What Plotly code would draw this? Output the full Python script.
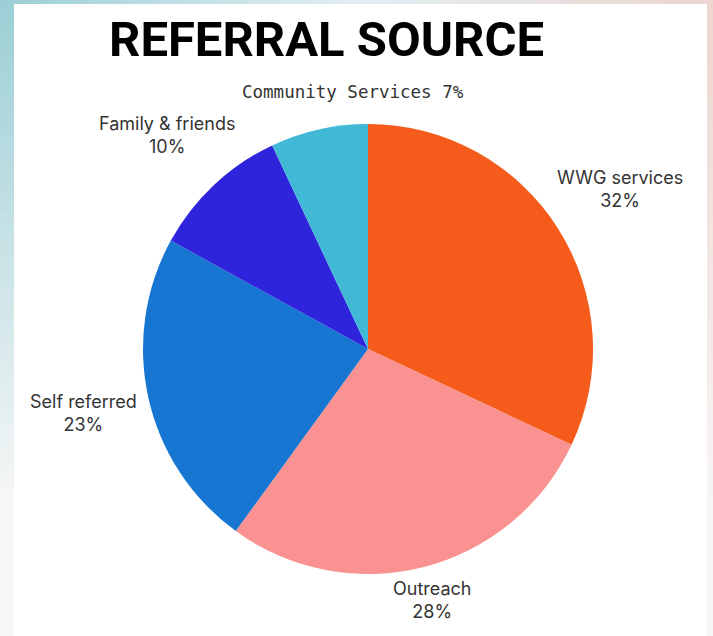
import math
import plotly.graph_objects as go

# Referral source breakdown (percent of referrals)
sources = ["WWG services", "Outreach", "Self referred", "Family & friends", "Community Services"]
shares = [32, 28, 23, 10, 7]
colors = ["#F55B1B", "#F99290", "#1876D3", "#2D24DC", "#41B8D5"]

W, H = 713, 636
CX, CY, R = 368, 349, 225          # pie centre and radius in pixels

# label placement: distance from centre (px) and angular nudge (deg)
label_dist = [299, 259, 292, 294, 257]
label_nudge = [0, 0, 0, 0, 9.3]


def px(x):
    return x / W


def py(y):
    return 1 - y / H


def lerp(c1, c2, t):
    return "rgb({},{},{})".format(*[round(a + (b - a) * t) for a, b in zip(c1, c2)])


shapes = []
N = 60
teal = (156, 207, 214)
mid = (226, 238, 243)
pink = (236, 214, 208)
light = (247, 247, 247)
# left border: teal fading downward
for i in range(N):
    t = i / (N - 1)
    c = lerp(teal, light, min(1, t * 1.25))
    shapes.append(dict(type="rect", xref="paper", yref="paper", x0=0, x1=px(15),
                       y0=py(H * (i + 1) / N + 1), y1=py(H * i / N), fillcolor=c,
                       line_width=0, layer="below"))
# top border: teal -> pale blue -> pink
for i in range(N):
    t = i / (N - 1)
    c = lerp(teal, mid, t * 2) if t < 0.5 else lerp(mid, pink, (t - 0.5) * 2)
    shapes.append(dict(type="rect", xref="paper", yref="paper",
                       x0=px(W * i / N), x1=px(W * (i + 1) / N + 1),
                       y0=py(4), y1=1, fillcolor=c, line_width=0, layer="below"))
# right border: pink fading downward
for i in range(N):
    t = i / (N - 1)
    c = lerp(pink, light, min(1, t * 1.2))
    shapes.append(dict(type="rect", xref="paper", yref="paper", x0=px(707), x1=1,
                       y0=py(H * (i + 1) / N + 1), y1=py(max(4, H * i / N)), fillcolor=c,
                       line_width=0, layer="below"))
# white card
shapes.append(dict(type="rect", xref="paper", yref="paper", x0=px(14), x1=px(707),
                   y0=0, y1=py(4), fillcolor="white", line_width=0, layer="below"))

fig = go.Figure(go.Pie(
    labels=sources,
    values=shares,
    marker=dict(colors=colors, line=dict(width=0)),
    sort=False,
    direction="clockwise",
    rotation=0,
    textinfo="none",
    hoverinfo="label+percent",
    showlegend=False,
    domain=dict(x=[px(CX - R), px(CX + R)], y=[py(CY + R), py(CY - R)]),
))

annotations = [dict(text="<b>REFERRAL SOURCE</b>", x=px(326), y=py(40), xref="paper",
                    yref="paper", showarrow=False, xanchor="center", yanchor="middle",
                    font=dict(family="Roboto", size=49, color="#000000", weight=900))]

total = sum(shares)
start = 0.0
for name, v, d, nudge in zip(sources, shares, label_dist, label_nudge):
    span = 360 * v / total
    ang = math.radians(start + span / 2 + nudge)
    start += span
    lx = CX + d * math.sin(ang)
    ly = CY - d * math.cos(ang)
    if name == "Community Services":
        text = f"{name} {v}%"
        font = dict(family="DejaVu Sans Mono, Liberation Mono, monospace", size=17.5, color="#333333")
    else:
        text = f"{name}<br>{v}%"
        font = dict(family="Inter, Roboto, sans-serif", size=18, color="#333333")
    annotations.append(dict(text=text, x=px(lx), y=py(ly), xref="paper", yref="paper",
                            showarrow=False, xanchor="center", yanchor="middle",
                            align="center", font=font))

fig.update_layout(
    width=W, height=H,
    margin=dict(l=0, r=0, t=0, b=0),
    paper_bgcolor="white",
    plot_bgcolor="white",
    shapes=shapes,
    annotations=annotations,
)

fig.write_html("out.html")
